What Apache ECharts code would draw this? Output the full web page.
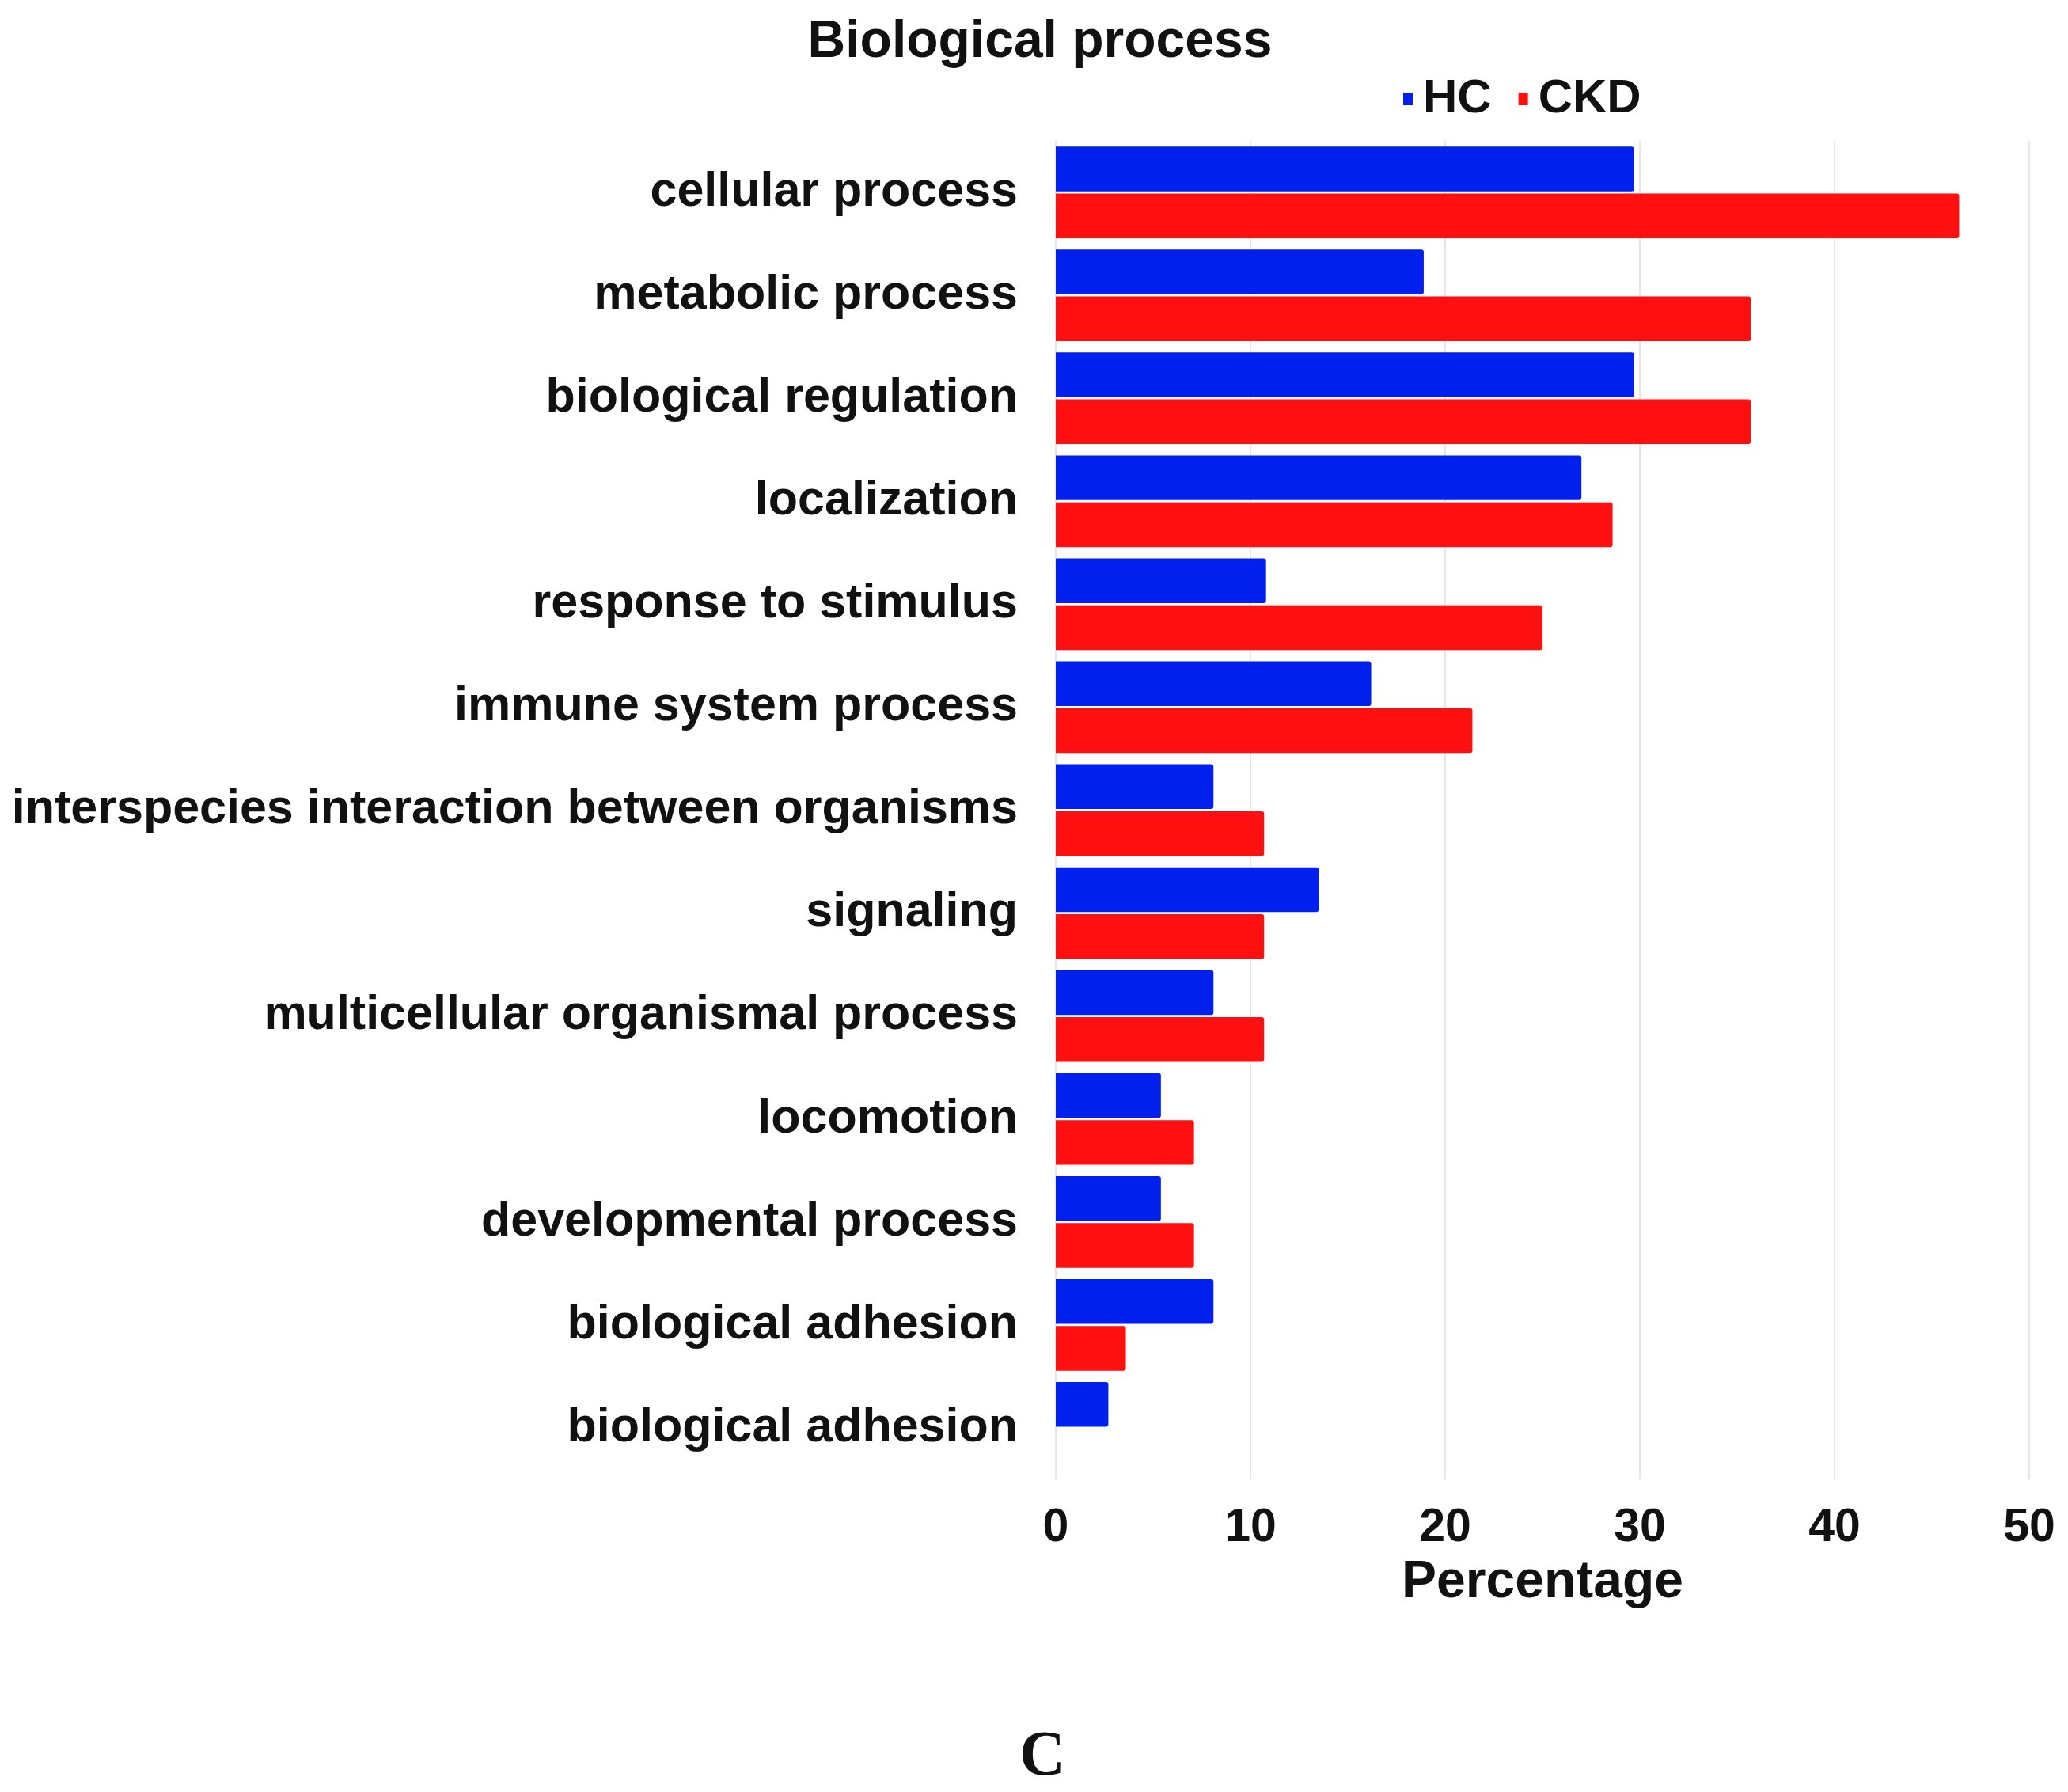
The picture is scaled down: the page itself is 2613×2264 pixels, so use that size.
<!DOCTYPE html>
<html>
<head>
<meta charset="utf-8">
<style>
html, body { margin: 0; padding: 0; background: #fff; }
#chart { width: 2613px; height: 2264px; }
</style>
<script src="https://cdn.jsdelivr.net/npm/echarts@6/dist/echarts.min.js"></script>
</head>
<body>
<div id="chart"></div>
<script>
var categories = [
    'cellular process', 'metabolic process', 'biological regulation', 'localization',
    'response to stimulus', 'immune system process', 'interspecies interaction between organisms',
    'signaling', 'multicellular organismal process', 'locomotion', 'developmental process',
    'biological adhesion', 'biological adhesion'
];
var hc_values = [29.7, 18.9, 29.7, 27.0, 10.8, 16.2, 8.1, 13.5, 8.1, 5.4, 5.4, 8.1, 2.7];
var ckd_values = [46.4, 35.7, 35.7, 28.6, 25.0, 21.4, 10.7, 10.7, 10.7, 7.1, 7.1, 3.6, 0];
var x_ticks = [0, 10, 20, 30, 40, 50];

var font = 'Liberation Sans';
var myChart = echarts.init(document.getElementById('chart'));
var option = {
    backgroundColor: '#ffffff',
    title: [
        {
            text: 'Biological process',
            left: 1309,
            top: 16,
            textAlign: 'center',
            textStyle: {fontFamily: font, fontWeight: 'bold', fontSize: 66, color: '#111'}
        },
        {
            text: 'C',
            left: 1312,
            top: 2176,
            textAlign: 'center',
            textStyle: {fontFamily: 'Liberation Serif', fontWeight: 'bold', fontSize: 80, color: '#111'}
        }
    ],
    legend: {
        data: ['HC', 'CKD'],
        left: 1768,
        top: 90,
        itemWidth: 12,
        itemHeight: 16,
        itemGap: 34,
        icon: 'rect',
        textStyle: {fontFamily: font, fontWeight: 'bold', fontSize: 60, color: '#111', padding: [0, 0, 0, 8]}
    },
    grid: {left: 1334, right: 49, top: 178, bottom: 395, containLabel: false},
    xAxis: {
        type: 'value',
        min: x_ticks[0],
        max: x_ticks[x_ticks.length - 1],
        interval: 10,
        name: 'Percentage',
        nameLocation: 'middle',
        nameGap: 98,
        nameTextStyle: {fontFamily: font, fontWeight: 'bold', fontSize: 66, color: '#111'},
        axisLine: {show: false},
        axisTick: {show: false},
        axisLabel: {margin: 32, fontFamily: font, fontWeight: 'bold', fontSize: 59, color: '#111'},
        splitLine: {show: true, lineStyle: {color: '#e6e6e6', width: 2}}
    },
    yAxis: {
        type: 'category',
        inverse: true,
        data: categories,
        axisLine: {show: false},
        axisTick: {show: false},
        axisLabel: {margin: 48, fontFamily: font, fontWeight: 'bold', fontSize: 61, color: '#111'}
    },
    series: [
        {
            name: 'HC',
            type: 'bar',
            barCategoryGap: '11%',
            barGap: '5%',
            itemStyle: {color: '#0020ee', borderRadius: [0, 3, 3, 0]},
            data: hc_values
        },
        {
            name: 'CKD',
            type: 'bar',
            barCategoryGap: '11%',
            barGap: '5%',
            itemStyle: {color: '#ff1010', borderRadius: [0, 3, 3, 0]},
            data: ckd_values
        }
    ]
};
myChart.setOption(option, true);
</script>
</body>
</html>
